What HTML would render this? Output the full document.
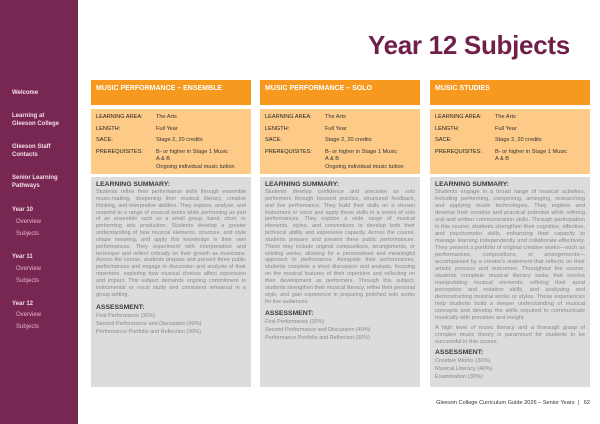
<!DOCTYPE html>
<html><head><meta charset="utf-8"><style>
*{margin:0;padding:0;box-sizing:border-box}
body{width:600px;height:424px;background:#fff;position:relative;overflow:hidden;font-family:"Liberation Sans",sans-serif}
#side{position:absolute;left:0;top:0;width:78px;height:424px;background:#772751}
.n{position:absolute;left:12px;color:#f3dde8;font-size:6px;font-weight:bold;line-height:7.5px}
.s{position:absolute;left:16px;color:#e9b3cf;font-size:6px;line-height:7px}
h1{position:absolute;left:368px;top:30px;font-size:26px;color:#6f1f48;font-weight:bold;letter-spacing:-0.3px}
.col{position:absolute;top:80px;width:160px}
.hd{height:25px;background:#f7991f;color:#fff;font-size:7px;font-weight:bold;padding:5px 5px}
.info{margin-top:4px;height:65px;background:#fdca88;padding:5px 5px;font-size:5.6px;color:#333}
.r{display:flex;line-height:7.5px;margin-bottom:4px}
.r b{width:60px;font-weight:normal;color:#222}
.r span{line-height:7.5px}
.gray{margin-top:3px;background:#dcdcde;padding:4px 5px;font-size:5.45px;color:#8a8a8a}
.gray h4{font-size:6.8px;color:#3a3a3a;margin-bottom:1px}
.gray p{text-align:justify;line-height:6.85px}
.gray .a{line-height:8px}
.c3 p{font-size:5.7px;line-height:7px}
.c3 .a{line-height:8px}
#foot{position:absolute;right:10px;top:400px;font-size:5.6px;color:#333}
</style></head><body>
<div id="side">
<div class="n" style="top:90px">Welcome</div>
<div class="n" style="top:113px">Learning at<br>Gleeson College</div>
<div class="n" style="top:144px">Gleeson Staff<br>Contacts</div>
<div class="n" style="top:175px">Senior Learning<br>Pathways</div>
<div class="n" style="top:207px">Year 10</div>
<div class="s" style="top:219px">Overview</div>
<div class="s" style="top:231px">Subjects</div>
<div class="n" style="top:254px">Year 11</div>
<div class="s" style="top:266px">Overview</div>
<div class="s" style="top:278px">Subjects</div>
<div class="n" style="top:301px">Year 12</div>
<div class="s" style="top:312px">Overview</div>
<div class="s" style="top:324px">Subjects</div>
</div>
<h1>Year 12 Subjects</h1>

<div class="col" style="left:91px">
<div class="hd">MUSIC PERFORMANCE – ENSEMBLE</div>
<div class="info">
<div class="r"><b>LEARNING AREA:</b><span>The Arts</span></div>
<div class="r"><b>LENGTH:</b><span>Full Year</span></div>
<div class="r"><b>SACE:</b><span>Stage 2, 20 credits</span></div>
<div class="r"><b>PREREQUISITES:</b><span>B- or higher in Stage 1 Music<br>A &amp; B<br>Ongoing individual music tuition</span></div>
</div>
<div class="gray" style="height:210px">
<h4>LEARNING SUMMARY:</h4>
<p>Students refine their performance skills through ensemble music-making, deepening their musical literacy, creative thinking, and interpretive abilities. They explore, analyse, and respond to a range of musical works while performing as part of an ensemble such as a small group, band, choir, or performing arts production. Students develop a greater understanding of how musical elements, structure, and style shape meaning, and apply this knowledge in their own performances. They experiment with interpretation and technique and reflect critically on their growth as musicians. Across the course, students prepare and present three public performances and engage in discussion and analysis of their repertoire, exploring how musical choices affect expression and impact. This subject demands ongoing commitment to instrumental or vocal study and consistent rehearsal in a group setting.</p>
<h4 style="margin-top:5px">ASSESSMENT:</h4>
<p class="a">First Performance (30%)<br>Second Performance and Discussion (40%)<br>Performance Portfolio and Reflection (30%)</p>
</div></div>

<div class="col" style="left:260px">
<div class="hd">MUSIC PERFORMANCE – SOLO</div>
<div class="info">
<div class="r"><b>LEARNING AREA:</b><span>The Arts</span></div>
<div class="r"><b>LENGTH:</b><span>Full Year</span></div>
<div class="r"><b>SACE:</b><span>Stage 2, 20 credits</span></div>
<div class="r"><b>PREREQUISITES:</b><span>B- or higher in Stage 1 Music<br>A &amp; B<br>Ongoing individual music tuition</span></div>
</div>
<div class="gray" style="height:210px">
<h4>LEARNING SUMMARY:</h4>
<p>Students develop confidence and precision as solo performers through focused practice, structured feedback, and live performance. They build their skills on a chosen instrument or voice and apply these skills in a series of solo performances. They explore a wide range of musical elements, styles, and conventions to develop both their technical ability and expressive capacity. Across the course, students prepare and present three public performances. These may include original compositions, arrangements, or existing works, allowing for a personalised and meaningful approach to performance. Alongside their performances, students complete a short discussion and analysis, focusing on the musical features of their repertoire and reflecting on their development as performers. Through this subject, students strengthen their musical literacy, refine their personal style, and gain experience in preparing polished solo works for live audiences.</p>
<h4 style="margin-top:5px">ASSESSMENT:</h4>
<p class="a">First Performance (30%)<br>Second Performance and Discussion (40%)<br>Performance Portfolio and Reflection (30%)</p>
</div></div>

<div class="col c3" style="left:430px">
<div class="hd">MUSIC STUDIES</div>
<div class="info">
<div class="r"><b>LEARNING AREA:</b><span>The Arts</span></div>
<div class="r"><b>LENGTH:</b><span>Full Year</span></div>
<div class="r"><b>SACE:</b><span>Stage 2, 20 credits</span></div>
<div class="r"><b>PREREQUISITES:</b><span>B- or higher in Stage 1 Music<br>A &amp; B</span></div>
</div>
<div class="gray" style="height:210px">
<h4>LEARNING SUMMARY:</h4>
<p>Students engage in a broad range of musical activities, including performing, composing, arranging, researching and applying music technologies. They explore and develop their creative and practical potential while refining oral and written communication skills. Through participation in this course, students strengthen their cognitive, affective, and psychomotor skills, enhancing their capacity to manage learning independently and collaborate effectively. They present a portfolio of original creative works—such as performances, compositions, or arrangements—accompanied by a creator's statement that reflects on their artistic process and outcomes. Throughout the course, students complete musical literacy tasks that involve manipulating musical elements, refining their aural perception and notation skills, and analysing and deconstructing musical works or styles. These experiences help students build a deeper understanding of musical concepts and develop the skills required to communicate musically with precision and insight.</p>
<p style="margin-top:3px">A high level of music literacy and a thorough grasp of complex music theory is paramount for students to be successful in this course.</p>
<h4 style="margin-top:3px">ASSESSMENT:</h4>
<p class="a">Creative Works (30%)<br>Musical Literacy (40%)<br>Examination (30%)</p>
</div></div>

<div id="foot">Gleeson College Curriculum Guide 2026 – Senior Years &nbsp;|&nbsp;&nbsp; 62</div>
</body></html>
